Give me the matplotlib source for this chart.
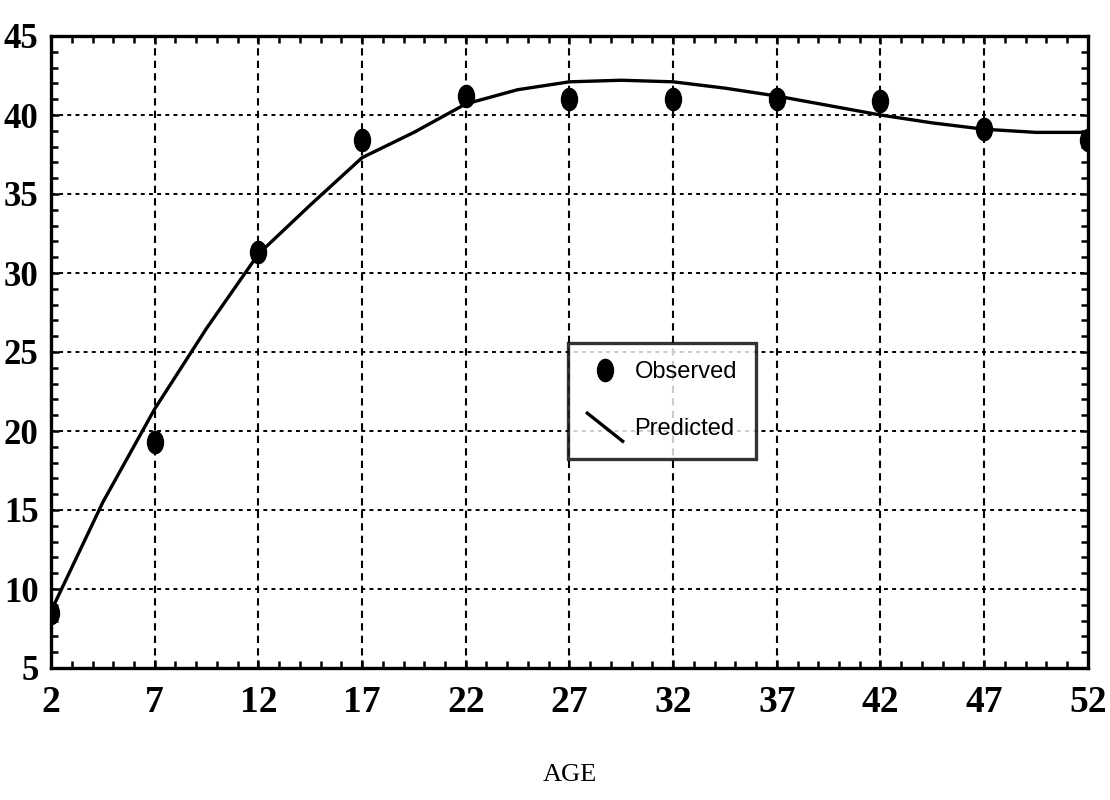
import matplotlib
matplotlib.use("Agg")
import matplotlib.pyplot as plt
from matplotlib.markers import MarkerStyle
from matplotlib.transforms import Affine2D
from matplotlib.lines import Line2D
from matplotlib.legend_handler import HandlerBase
from matplotlib.ticker import MultipleLocator

# ---- data ----
ages = [2, 7, 12, 17, 22, 27, 32, 37, 42, 47, 52]
observed = [8.5, 19.3, 31.3, 38.4, 41.2, 41.0, 41.0, 41.0, 40.9, 39.1, 38.4]
pred_age = [2, 4.5, 7, 9.5, 12, 14.5, 17, 19.5, 22, 24.5, 27, 29.5, 32,
            34.5, 37, 39.5, 42, 44.5, 47, 49.5, 52]
predicted = [8.6, 15.5, 21.4, 26.5, 31.2, 34.3, 37.3, 38.9, 40.7, 41.6, 42.1,
             42.2, 42.1, 41.7, 41.2, 40.6, 40.0, 39.5, 39.1, 38.9, 38.9]
x_ticks = [2, 7, 12, 17, 22, 27, 32, 37, 42, 47, 52]
y_ticks = [5, 10, 15, 20, 25, 30, 35, 40, 45]
x_label = "AGE"
legend_labels = ["Observed", "Predicted"]

fig = plt.figure(figsize=(11.1, 8.0), dpi=100)
ax = fig.add_axes([0.046, 0.165, 0.934, 0.79])

ell = MarkerStyle("o", transform=Affine2D().scale(0.72, 1.0))

pred_line, = ax.plot(pred_age, predicted, color="black", lw=2.4, zorder=3)
obs_pts, = ax.plot(ages, observed, linestyle="none", marker=ell,
                   markersize=16, color="black", zorder=4)

ax.set_xlim(2, 52)
ax.set_ylim(5, 45)
ax.set_xticks(x_ticks)
ax.set_yticks(y_ticks)
ax.xaxis.set_minor_locator(MultipleLocator(1))
ax.yaxis.set_minor_locator(MultipleLocator(1))

# grid lines
for xv in x_ticks[1:-1]:
    ax.axvline(xv, color="black", lw=1.5, linestyle=(0, (3.5, 2.5)), zorder=1)
for yv in y_ticks[1:-1]:
    ax.axhline(yv, color="black", lw=1.4, linestyle=(0, (2, 2.2)), zorder=1)

for s in ax.spines.values():
    s.set_linewidth(2.4)
    s.set_color("black")

ax.tick_params(which="both", direction="in", top=True, right=True,
               width=1.8, color="black")
ax.tick_params(which="major", length=6)
ax.tick_params(which="minor", length=5)
ax.tick_params(axis="x", which="major", pad=12)
ax.tick_params(axis="y", which="major", pad=9)

for lab in ax.get_xticklabels():
    lab.set_fontfamily("Liberation Serif")
    lab.set_fontweight("bold")
    lab.set_fontsize(27)
for lab in ax.get_yticklabels():
    lab.set_fontfamily("Liberation Serif")
    lab.set_fontweight("bold")
    lab.set_fontsize(25)

ax.set_xlabel(x_label, fontfamily="Liberation Serif", fontsize=19, labelpad=32)


class DiagHandler(HandlerBase):
    def create_artists(self, legend, orig_handle, xdescent, ydescent,
                       width, height, fontsize, trans):
        x0 = -xdescent
        x1 = -xdescent + width
        y0 = -ydescent + height * 1.3
        y1 = -ydescent - height * 0.4
        ln = Line2D([x0, x1], [y0, y1], color="black", lw=2.4, transform=trans)
        return [ln]


leg = ax.legend([obs_pts, pred_line], legend_labels,
                handler_map={pred_line: DiagHandler()},
                loc="upper left", bbox_to_anchor=(0.499, 0.515),
                numpoints=1, frameon=True, fancybox=False, shadow=False,
                prop={"family": "Liberation Sans", "size": 17},
                borderpad=0.8, handlelength=1.5, handletextpad=0.5,
                labelspacing=1.45, borderaxespad=0)
leg.get_frame().set_edgecolor("black")
leg.get_frame().set_linewidth(2.4)
leg.set_zorder(5)

fig.savefig("out.png", dpi=100, facecolor="white")
